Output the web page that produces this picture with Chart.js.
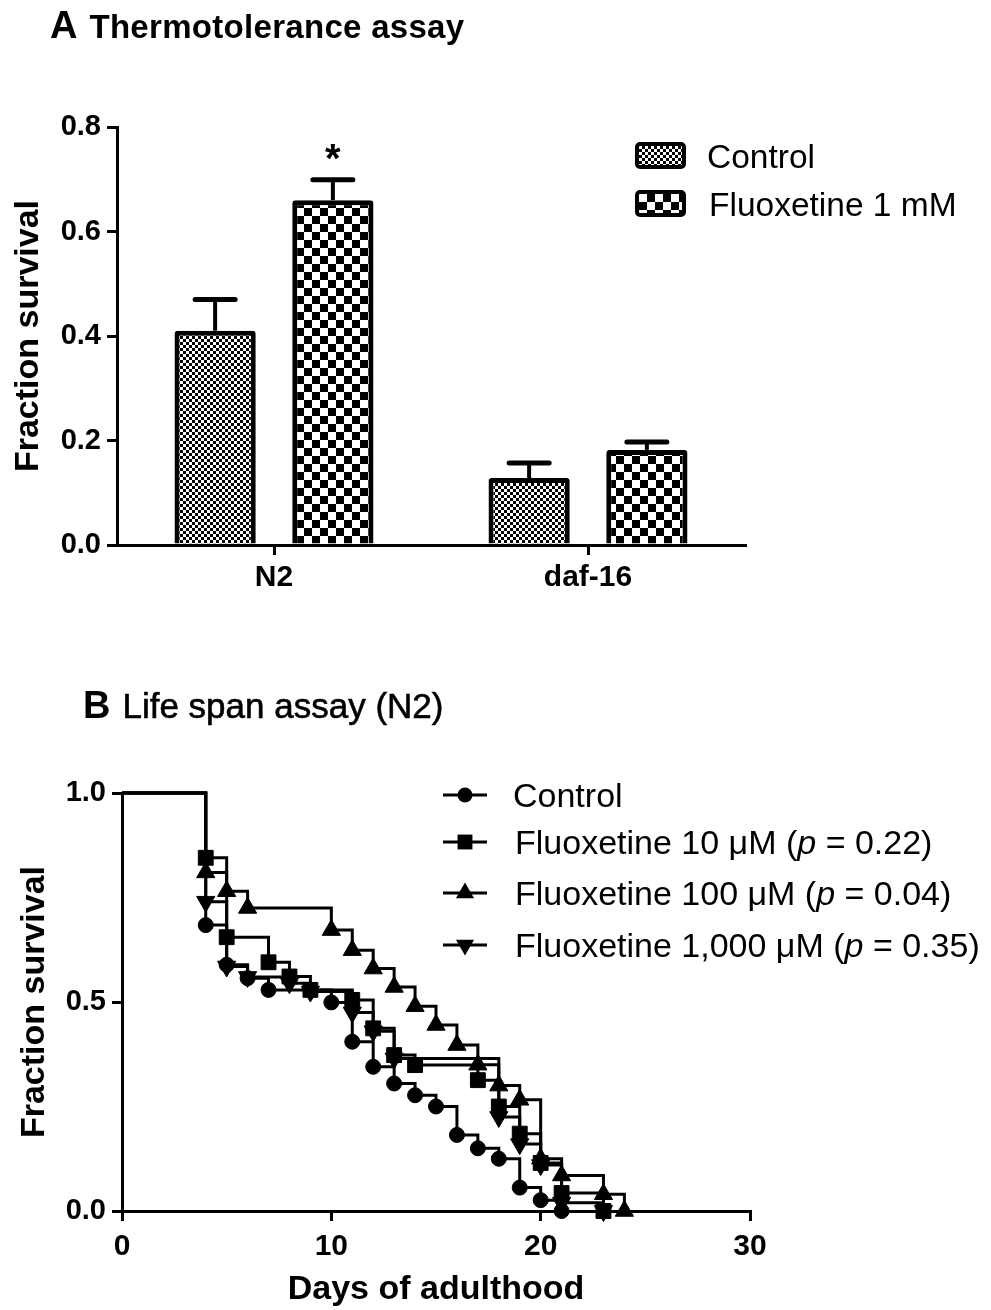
<!DOCTYPE html>
<html><head><meta charset="utf-8">
<script src="https://cdn.jsdelivr.net/npm/chart.js@4.4.1/dist/chart.umd.min.js"></script>
<style>
body{margin:0;background:#fff;}
#page{position:relative;width:991px;height:1310px;overflow:hidden;font-family:"Liberation Sans",Arial,sans-serif;color:#000;background:#fff;}
#wrapA{position:absolute;left:0;top:0;width:991px;height:640px;}
#wrapB{position:absolute;left:0;top:640px;width:991px;height:670px;}
.ttl{position:absolute;white-space:nowrap;line-height:1;font-size:38px;}
.leg{position:absolute;white-space:nowrap;font-size:33.5px;line-height:1;}
.sw{position:absolute;box-sizing:border-box;width:51px;height:27px;border:4px solid #000;border-radius:5px;}
.row{position:absolute;display:flex;align-items:center;white-space:nowrap;font-size:34px;line-height:1;}
.row svg{flex:none;}
</style>
</head><body>
<div id="page">
  <div id="wrapA"><canvas id="chartA" width="991" height="640"></canvas></div>
  <div id="wrapB"><canvas id="chartB" width="991" height="670"></canvas></div>

  <div class="ttl" style="left:50px;top:6px;"><span style="font-weight:bold;">A</span><span style="font-weight:bold;font-size:33px;margin-left:12px;letter-spacing:0.3px;">Thermotolerance assay</span></div>
  <div class="ttl" style="left:83px;top:686px;"><span style="font-weight:bold;">B</span><span style="font-size:35px;margin-left:12px;-webkit-text-stroke:0.6px #000;">Life span assay (N2)</span></div>

  <div class="sw" style="left:635px;top:142px;background:repeating-conic-gradient(#000 0% 25%, #fff 0% 50%) 0 0/6px 6px;"></div>
  <div class="leg" style="left:707px;top:140px;">Control</div>
  <div class="sw" style="left:635px;top:190px;background:repeating-conic-gradient(#000 0% 25%, #fff 0% 50%) 0 0/16px 16px;"></div>
  <div class="leg" style="left:709px;top:188px;">Fluoxetine 1 mM</div>

  <div id="legB"></div>
</div>
<script>
// ---------- Panel A data ----------
const categoriesA = ['N2', 'daf-16'];
const seriesNamesA = ['Control', 'Fluoxetine 1 mM'];
const controlA = [0.41, 0.128];
const controlErrA = [0.06, 0.029];
const fluoxA = [0.66, 0.182];
const fluoxErrA = [0.039, 0.015];
const fluoxSigA = ['*', ''];
const yTicksA = [0, 0.2, 0.4, 0.6, 0.8];

// ---------- Panel B data ----------
const daysControl = [0, 4, 5, 6, 7, 10, 11, 12, 13, 14, 15, 16, 17, 18, 19, 20, 21];
const survControl = [1, 0.684, 0.589, 0.557, 0.529, 0.499, 0.405, 0.345, 0.305, 0.277, 0.25, 0.182, 0.15, 0.125, 0.056, 0.026, 0];
const days10 = [0, 4, 5, 7, 8, 9, 11, 12, 13, 14, 17, 18, 19, 20, 21, 23];
const surv10 = [1, 0.845, 0.655, 0.595, 0.561, 0.529, 0.505, 0.437, 0.373, 0.349, 0.313, 0.25, 0.185, 0.115, 0.043, 0];
const days100 = [0, 4, 5, 6, 10, 11, 12, 13, 14, 15, 16, 17, 18, 19, 20, 21, 23, 24];
const surv100 = [1, 0.81, 0.765, 0.725, 0.672, 0.624, 0.58, 0.536, 0.49, 0.445, 0.397, 0.35, 0.30, 0.266, 0.125, 0.085, 0.04, 0];
const days1000 = [0, 4, 5, 6, 8, 9, 11, 12, 13, 18, 19, 20, 21, 23];
const surv1000 = [1, 0.74, 0.585, 0.56, 0.545, 0.525, 0.475, 0.43, 0.365, 0.225, 0.16, 0.11, 0.02, 0];
const seriesNamesB = ['Control', 'Fluoxetine 10 μM (p = 0.22)', 'Fluoxetine 100 μM (p = 0.04)', 'Fluoxetine 1,000 μM (p = 0.35)'];
const legendHtmlB = ['Control', 'Fluoxetine 10 μM (<i>p</i> = 0.22)', 'Fluoxetine 100 μM (<i>p</i> = 0.04)', 'Fluoxetine 1,000 μM (<i>p</i> = 0.35)'];
const xTicksB = [0, 10, 20, 30];
const yTicksB = [0, 0.5, 1.0];

const FONT = '"Liberation Sans", Arial, sans-serif';
Chart.defaults.font.family = FONT;
Chart.defaults.color = '#000';

function checker(ctx, cell) {
  const c = document.createElement('canvas');
  c.width = c.height = cell * 2;
  const g = c.getContext('2d');
  g.fillStyle = '#fff'; g.fillRect(0, 0, cell * 2, cell * 2);
  g.fillStyle = '#000'; g.fillRect(0, 0, cell, cell); g.fillRect(cell, cell, cell, cell);
  return ctx.createPattern(c, 'repeat');
}

const axisCommon = {
  grid: { drawOnChartArea: false, drawTicks: true, tickLength: 10, color: '#000', lineWidth: 3 },
  border: { display: true, color: '#000', width: 3 },
};

// ---------- Chart A ----------
const ctxA = document.getElementById('chartA').getContext('2d');
const errorBars = {
  id: 'errorBars',
  afterDatasetsDraw(chart) {
    const { ctx } = chart; const y = chart.scales.y;
    chart.data.datasets.forEach((ds, di) => {
      const meta = chart.getDatasetMeta(di);
      meta.data.forEach((bar, i) => {
        const v = ds.data[i], e = ds.errs[i];
        const yTop = y.getPixelForValue(v + e), yBar = y.getPixelForValue(v);
        ctx.save();
        ctx.strokeStyle = '#000';
        ctx.lineWidth = 4;
        ctx.beginPath(); ctx.moveTo(bar.x, yBar); ctx.lineTo(bar.x, yTop); ctx.stroke();
        ctx.lineWidth = 5; ctx.lineCap = 'round';
        ctx.beginPath(); ctx.moveTo(bar.x - 20, yTop); ctx.lineTo(bar.x + 20, yTop); ctx.stroke();
        if (ds.sig && ds.sig[i]) {
          ctx.fillStyle = '#000';
          ctx.font = 'bold 40px ' + FONT;
          ctx.textAlign = 'center'; ctx.textBaseline = 'alphabetic';
          ctx.fillText(ds.sig[i], bar.x, yTop - 8);
        }
        ctx.restore();
      });
    });
  }
};

new Chart(ctxA, {
  type: 'bar',
  data: {
    labels: categoriesA,
    datasets: [
      { label: seriesNamesA[0], data: controlA, errs: controlErrA, backgroundColor: checker(ctxA, 3), borderColor: '#000', borderWidth: 5, borderRadius: 3, borderSkipped: 'start' },
      { label: seriesNamesA[1], data: fluoxA, errs: fluoxErrA, sig: fluoxSigA, backgroundColor: checker(ctxA, 8), borderColor: '#000', borderWidth: 5, borderRadius: 3, borderSkipped: 'start' }
    ]
  },
  options: {
    responsive: false, animation: false, devicePixelRatio: 1,
    categoryPercentage: 0.75, barPercentage: 0.69,
    layout: { padding: { top: 127, right: 246, left: 0, bottom: 0 } },
    plugins: { legend: { display: false }, tooltip: { enabled: false } },
    scales: {
      x: {
        ...axisCommon,
        grid: { ...axisCommon.grid, offset: false },
        ticks: { color: '#000', font: { size: 30, weight: 'bold' }, padding: 5 },
        afterFit(s) { s.height = 95; }
      },
      y: {
        ...axisCommon,
        min: 0, max: 0.8,
        afterBuildTicks(s) { s.ticks = yTicksA.map(v => ({ value: v })); },
        ticks: { color: '#000', font: { size: 29, weight: 'bold' }, padding: 6, callback: v => Number(v).toFixed(1) },
        title: { display: true, text: 'Fraction survival', color: '#000', font: { size: 34, weight: 'bold' }, padding: { top: 8, bottom: 0 } },
        afterFit(s) { s.width = 117; }
      }
    }
  },
  plugins: [errorBars]
});

// ---------- Chart B ----------
const ctxB = document.getElementById('chartB').getContext('2d');
function toXY(xs, ys) { return xs.map((x, i) => ({ x: x, y: ys[i] })); }
const markerB = [
  { style: 'circle', r: 7.5, rot: 0 },
  { style: 'rect', r: 10.5, rot: 0 },
  { style: 'triangle', r: 10.5, rot: 0 },
  { style: 'triangle', r: 10.5, rot: 180 }
];
const seriesB = [toXY(daysControl, survControl), toXY(days10, surv10), toXY(days100, surv100), toXY(days1000, surv1000)];
const dsB = seriesB.map((d, k) => ({
  label: seriesNamesB[k], data: d,
  stepped: true, tension: 0, fill: false, clip: false,
  borderColor: '#000', borderWidth: 3,
  pointStyle: markerB[k].style, pointRotation: markerB[k].rot,
  pointRadius: c => c.dataIndex === 0 ? 0 : markerB[k].r,
  pointBackgroundColor: '#000', pointBorderColor: '#000', pointBorderWidth: 1
}));
new Chart(ctxB, {
  type: 'line',
  data: { datasets: dsB },
  options: {
    responsive: false, animation: false, devicePixelRatio: 1,
    layout: { padding: { top: 153, right: 241, left: 0, bottom: 0 } },
    plugins: { legend: { display: false }, tooltip: { enabled: false } },
    scales: {
      x: {
        ...axisCommon, type: 'linear', min: 0, max: 30,
        afterBuildTicks(s) { s.ticks = xTicksB.map(v => ({ value: v })); },
        ticks: { color: '#000', font: { size: 30, weight: 'bold' }, padding: 8 },
        title: { display: true, text: 'Days of adulthood', color: '#000', font: { size: 34, weight: 'bold' }, padding: { top: 0, bottom: 0 } },
        afterFit(s) { s.height = 99; }
      },
      y: {
        ...axisCommon, type: 'linear', min: 0, max: 1,
        afterBuildTicks(s) { s.ticks = yTicksB.map(v => ({ value: v })); },
        ticks: { color: '#000', font: { size: 29, weight: 'bold' }, padding: 6, callback: v => Number(v).toFixed(1) },
        title: { display: true, text: 'Fraction survival', color: '#000', font: { size: 34, weight: 'bold' }, padding: { top: 14, bottom: 0 } },
        afterFit(s) { s.width = 122; }
      }
    }
  }
});

// ---------- Legend B (HTML) ----------
function markerSvg(k) {
  const m = markerB[k];
  let shape = '';
  const cx = 22, cy = 15;
  if (m.style === 'circle') shape = `<circle cx="${cx}" cy="${cy}" r="${m.r}" fill="#000"/>`;
  else if (m.style === 'rect') { const h = m.r * Math.SQRT1_2; shape = `<rect x="${cx - h}" y="${cy - h}" width="${2 * h}" height="${2 * h}" fill="#000"/>`; }
  else {
    const pts = [0, 1, 2].map(j => { const a = (m.rot * Math.PI / 180) + j * 2 * Math.PI / 3; return (cx + Math.sin(a) * m.r) + ',' + (cy - Math.cos(a) * m.r); }).join(' ');
    shape = `<polygon points="${pts}" fill="#000"/>`;
  }
  return `<svg width="44" height="30" viewBox="0 0 44 30"><line x1="0" y1="${cy}" x2="44" y2="${cy}" stroke="#000" stroke-width="3"/>${shape}</svg>`;
}
const rowY = [795, 842, 893, 945];
const legB = document.getElementById('legB');
legendHtmlB.forEach((t, k) => {
  const d = document.createElement('div');
  d.className = 'row';
  d.style.left = '443px';
  d.style.top = (rowY[k] - 15) + 'px';
  d.style.height = '30px';
  d.innerHTML = markerSvg(k) + `<span style="margin-left:${26 + (k > 0 ? 2 : 0)}px">${t}</span>`;
  legB.appendChild(d);
});
</script>
</body></html>
